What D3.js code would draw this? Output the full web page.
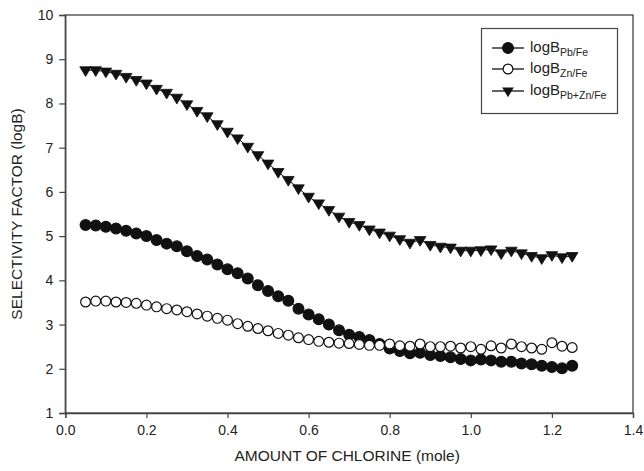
<!DOCTYPE html>
<html><head><meta charset="utf-8">
<script src="https://cdn.jsdelivr.net/npm/d3@7"></script>
<style>body{margin:0;background:#fff}svg{display:block}text{font-family:"Liberation Sans",Arial,sans-serif;fill:#222}</style>
</head><body><svg id="c" width="644" height="471"></svg>
<script>
const xValues = [0.05,0.075,0.1,0.125,0.15,0.175,0.2,0.225,0.25,0.275,0.3,0.325,0.35,0.375,0.4,0.425,0.45,0.475,0.5,0.525,0.55,0.575,0.6,0.625,0.65,0.675,0.7,0.725,0.75,0.775,0.8,0.825,0.85,0.875,0.9,0.925,0.95,0.975,1.0,1.025,1.05,1.075,1.1,1.125,1.15,1.175,1.2,1.225,1.25];
const pbFe = [5.25,5.24,5.21,5.17,5.12,5.06,5.00,4.91,4.83,4.77,4.66,4.55,4.47,4.36,4.25,4.16,4.04,3.89,3.76,3.64,3.54,3.36,3.23,3.12,3.00,2.87,2.77,2.72,2.65,2.56,2.46,2.40,2.35,2.36,2.31,2.29,2.26,2.22,2.19,2.21,2.19,2.16,2.16,2.12,2.10,2.07,2.04,2.01,2.07];
const znFe = [3.51,3.53,3.53,3.51,3.50,3.48,3.44,3.40,3.36,3.33,3.29,3.24,3.19,3.14,3.10,3.02,2.96,2.91,2.86,2.80,2.76,2.70,2.66,2.62,2.60,2.58,2.57,2.55,2.53,2.53,2.56,2.52,2.51,2.56,2.50,2.50,2.51,2.47,2.50,2.44,2.52,2.47,2.56,2.50,2.47,2.44,2.59,2.51,2.48];
const pbZnFe = [8.75,8.75,8.72,8.67,8.60,8.53,8.45,8.33,8.24,8.13,7.98,7.83,7.71,7.53,7.36,7.21,7.02,6.83,6.64,6.45,6.27,6.08,5.89,5.74,5.59,5.44,5.32,5.25,5.15,5.08,5.01,4.93,4.85,4.91,4.80,4.76,4.74,4.67,4.67,4.68,4.70,4.61,4.67,4.61,4.55,4.50,4.57,4.52,4.55];
const xTicks = [0.0,0.2,0.4,0.6,0.8,1.0,1.2,1.4];
const yTicks = [1,2,3,4,5,6,7,8,9,10];
const legendMain = ["logB","logB","logB"];
const legendSub = ["Pb/Fe","Zn/Fe","Pb+Zn/Fe"];
const xTitle = "AMOUNT OF CHLORINE (mole)";
const yTitle = "SELECTIVITY FACTOR (logB)";

const svg = d3.select("#c");
const L=65.3, R=633, T=15, B=413;
const x = d3.scaleLinear().domain([0,1.4]).range([L,R]);
const y = d3.scaleLinear().domain([1,10]).range([B,T]);
const axisColor = "#444";

svg.append("rect").attr("x",L).attr("y",T).attr("width",R-L).attr("height",B-T)
  .attr("fill","none").attr("stroke",axisColor).attr("stroke-width",1.3);

const gx = svg.append("g").attr("transform",`translate(0,${B})`)
  .call(d3.axisBottom(x).tickValues(xTicks).tickFormat(d3.format(".1f")).tickSize(5).tickPadding(7));
const gy = svg.append("g").attr("transform",`translate(${L},0)`)
  .call(d3.axisLeft(y).tickValues(yTicks).tickFormat(d3.format("d")).tickSize(6).tickPadding(6));
[gx,gy].forEach(g=>{
  g.select(".domain").attr("stroke",axisColor).attr("stroke-width",1.3);
  g.selectAll(".tick line").attr("stroke",axisColor).attr("stroke-width",1.2);
  g.selectAll(".tick text").attr("font-size",14).attr("font-family","Liberation Sans, Arial, sans-serif").attr("fill","#222");
});

svg.append("text").attr("x",(L+R)/2-2).attr("y",461).attr("text-anchor","middle").attr("font-size",15.5).text(xTitle);
svg.append("text").attr("transform",`translate(22,${(T+B)/2}) rotate(-90)`).attr("text-anchor","middle").attr("font-size",15.5).text(yTitle);

const tri = "M-5.8,-3.5L5.8,-3.5L0,6.2Z";
const series = [
  {vals:pbFe, type:"fill"},
  {vals:znFe, type:"open"},
  {vals:pbZnFe, type:"tri"}
];
const line = d3.line().x((d,i)=>x(xValues[i])).y(d=>y(d));
series.forEach(s=>{
  svg.append("path").datum(s.vals).attr("d",line).attr("fill","none").attr("stroke","#111").attr("stroke-width",1);
});
series.forEach(s=>{
  const g = svg.append("g");
  if(s.type==="tri"){
    g.selectAll("path").data(s.vals).join("path")
      .attr("transform",(d,i)=>`translate(${x(xValues[i])},${y(d)})`)
      .attr("d",tri).attr("fill","#111").attr("stroke","#111").attr("stroke-width",0.8);
  } else {
    g.selectAll("circle").data(s.vals).join("circle")
      .attr("cx",(d,i)=>x(xValues[i])).attr("cy",d=>y(d)).attr("r",s.type==="fill"?5.4:4.9)
      .attr("fill",s.type==="fill"?"#111":"#fff").attr("stroke","#111").attr("stroke-width",1.2);
  }
});

const lg = svg.append("g");
lg.append("rect").attr("x",481.5).attr("y",28.5).attr("width",136).attr("height",85)
  .attr("fill","#fff").attr("stroke",axisColor).attr("stroke-width",1.2);
const rowsY = [48,69,91];
series.forEach((s,i)=>{
  const cy = rowsY[i];
  lg.append("line").attr("x1",492).attr("x2",524).attr("y1",cy).attr("y2",cy).attr("stroke","#111").attr("stroke-width",1.3);
  if(s.type==="tri"){
    lg.append("path").attr("transform",`translate(508,${cy})`).attr("d",tri).attr("fill","#111");
  } else {
    lg.append("circle").attr("cx",508).attr("cy",cy).attr("r",s.type==="fill"?5.4:4.9)
      .attr("fill",s.type==="fill"?"#111":"#fff").attr("stroke","#111").attr("stroke-width",1.2);
  }
  const t = lg.append("text").attr("x",530).attr("y",cy+4).attr("font-size",15);
  t.append("tspan").text(legendMain[i]);
  t.append("tspan").attr("dy",4).attr("font-size",10.5).text(legendSub[i]);
});
</script></body></html>
